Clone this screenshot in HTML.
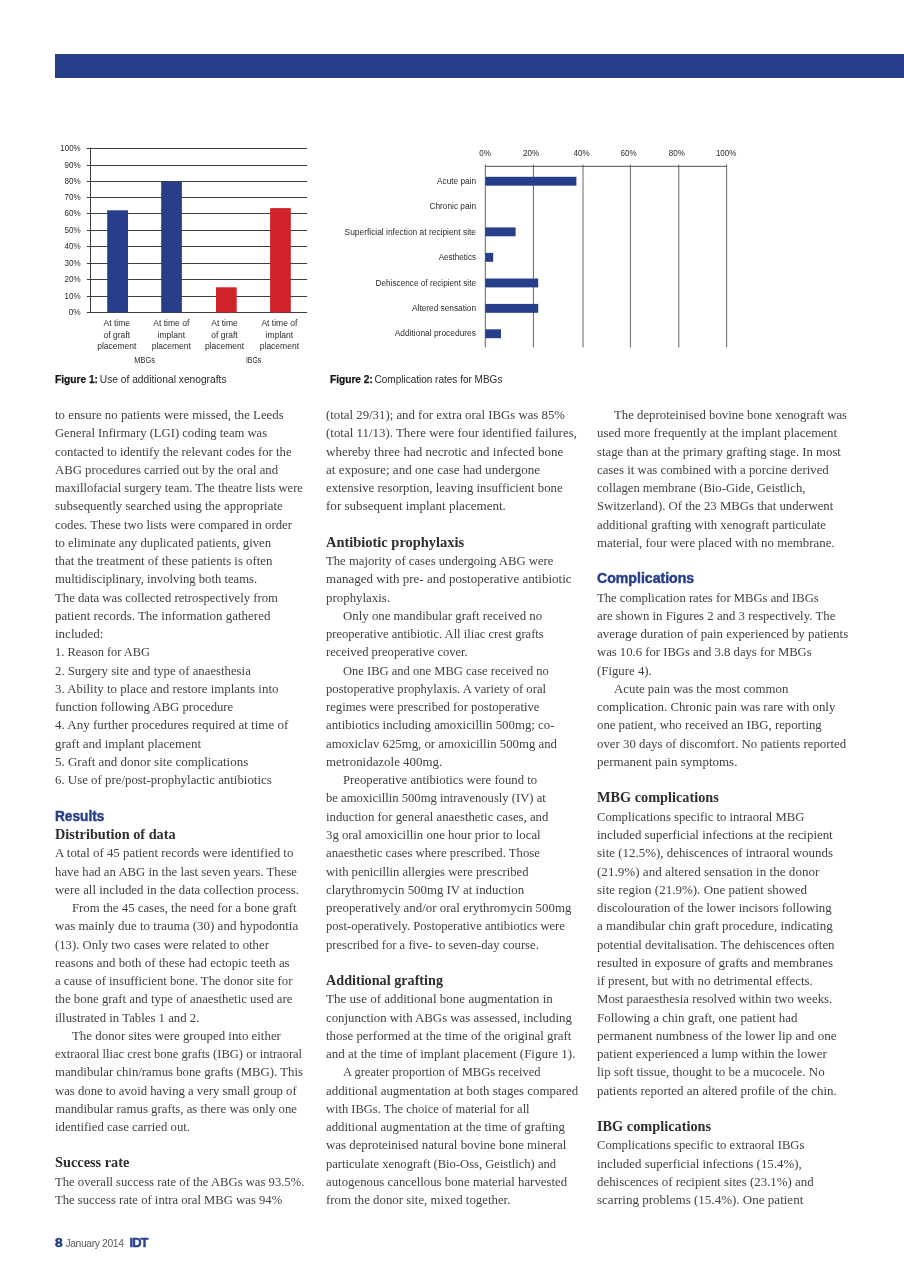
<!DOCTYPE html>
<html lang="en"><head><meta charset="utf-8"><title>IDT January 2014 - page 8</title>
<style>
html,body{margin:0;padding:0;background:#fff;}
body{width:904px;height:1280px;position:relative;overflow:hidden;font-family:"Liberation Serif",serif;}
#page{position:absolute;left:0;top:0;width:904px;height:1280px;will-change:transform;}
.bar{position:absolute;left:55px;top:54.4px;width:849px;height:23.2px;background:#273f8b;}
.l{position:absolute;white-space:pre;transform-origin:0 0;line-height:20px;height:20px;color:#424242;font-size:13.4px;font-kerning:normal;}
.b{font-weight:bold;color:#2e2e2e;font-size:14.0px;}
.h{font-family:"Liberation Sans",sans-serif;font-weight:bold;color:#273f8b;font-size:14.2px;-webkit-text-stroke:0.45px #273f8b;}
svg{position:absolute;left:0;top:0;}
svg text{font-family:"Liberation Sans",sans-serif;fill:#2b2b2b;}
.foot{position:absolute;white-space:pre;font-family:"Liberation Sans",sans-serif;line-height:16px;}
</style></head><body>
<div id="page"><div class="bar"></div>

<svg width="904" height="400" viewBox="0 0 904 400">
<g stroke="#3e3e3e" stroke-width="1" fill="none">
<line x1="86.8" y1="148.50" x2="307.1" y2="148.50"/>
<line x1="86.8" y1="165.50" x2="307.1" y2="165.50"/>
<line x1="86.8" y1="181.50" x2="307.1" y2="181.50"/>
<line x1="86.8" y1="197.50" x2="307.1" y2="197.50"/>
<line x1="86.8" y1="213.50" x2="307.1" y2="213.50"/>
<line x1="86.8" y1="230.50" x2="307.1" y2="230.50"/>
<line x1="86.8" y1="246.50" x2="307.1" y2="246.50"/>
<line x1="86.8" y1="263.50" x2="307.1" y2="263.50"/>
<line x1="86.8" y1="279.50" x2="307.1" y2="279.50"/>
<line x1="86.8" y1="296.50" x2="307.1" y2="296.50"/>
<line x1="86.8" y1="312.50" x2="307.1" y2="312.50"/>
<line x1="90.5" y1="147.70" x2="90.5" y2="312.60"/>
</g>
<rect x="107.2" y="210.3" width="20.8" height="102.2" fill="#273f8b"/>
<rect x="161.2" y="181.9" width="20.7" height="130.6" fill="#273f8b"/>
<rect x="216.0" y="287.3" width="20.7" height="25.2" fill="#d2232a"/>
<rect x="270.1" y="208.1" width="20.7" height="104.4" fill="#d2232a"/>
<g font-size="8.3" text-anchor="end">
<text x="80.7" y="150.90" textLength="20.4" lengthAdjust="spacingAndGlyphs">100%</text>
<text x="80.7" y="167.90" textLength="16.1" lengthAdjust="spacingAndGlyphs">90%</text>
<text x="80.7" y="183.90" textLength="16.1" lengthAdjust="spacingAndGlyphs">80%</text>
<text x="80.7" y="199.90" textLength="16.1" lengthAdjust="spacingAndGlyphs">70%</text>
<text x="80.7" y="215.90" textLength="16.1" lengthAdjust="spacingAndGlyphs">60%</text>
<text x="80.7" y="232.90" textLength="16.1" lengthAdjust="spacingAndGlyphs">50%</text>
<text x="80.7" y="248.90" textLength="16.1" lengthAdjust="spacingAndGlyphs">40%</text>
<text x="80.7" y="265.90" textLength="16.1" lengthAdjust="spacingAndGlyphs">30%</text>
<text x="80.7" y="281.90" textLength="16.1" lengthAdjust="spacingAndGlyphs">20%</text>
<text x="80.7" y="298.90" textLength="16.1" lengthAdjust="spacingAndGlyphs">10%</text>
<text x="80.7" y="314.90" textLength="12.0" lengthAdjust="spacingAndGlyphs">0%</text>
</g>
<g font-size="8.5" text-anchor="middle">
<text x="116.8" y="326.3">At time</text>
<text x="116.8" y="337.6">of graft</text>
<text x="116.8" y="348.7">placement</text>
<text x="171.3" y="326.3">At time of</text>
<text x="171.3" y="337.6">implant</text>
<text x="171.3" y="348.7">placement</text>
<text x="224.5" y="326.3">At time</text>
<text x="224.5" y="337.6">of graft</text>
<text x="224.5" y="348.7">placement</text>
<text x="279.4" y="326.3">At time of</text>
<text x="279.4" y="337.6">implant</text>
<text x="279.4" y="348.7">placement</text>
</g>
<g font-size="8.5" text-anchor="middle"><text x="144.6" y="363.3" textLength="20.7" lengthAdjust="spacingAndGlyphs">MBGs</text><text x="253.6" y="363.3" textLength="15.4" lengthAdjust="spacingAndGlyphs">IBGs</text></g>
<g stroke="#555" stroke-width="0.9" fill="none">
<line x1="485.30" y1="164.70" x2="485.30" y2="347.4"/>
<line x1="533.40" y1="164.70" x2="533.40" y2="347.4"/>
<line x1="583.00" y1="164.70" x2="583.00" y2="347.4"/>
<line x1="630.40" y1="164.70" x2="630.40" y2="347.4"/>
<line x1="678.80" y1="164.70" x2="678.80" y2="347.4"/>
<line x1="726.60" y1="164.70" x2="726.60" y2="347.4"/>
<line x1="484.90" y1="166.3" x2="727.00" y2="166.3" stroke="#3e3e3e"/>
</g>
<rect x="485.3" y="176.8" width="91.1" height="8.9" fill="#273f8b"/>
<rect x="485.3" y="227.4" width="30.3" height="8.9" fill="#273f8b"/>
<rect x="485.3" y="252.9" width="7.9" height="8.9" fill="#273f8b"/>
<rect x="485.3" y="278.5" width="52.9" height="8.9" fill="#273f8b"/>
<rect x="485.3" y="303.9" width="52.9" height="8.9" fill="#273f8b"/>
<rect x="485.3" y="329.3" width="15.7" height="8.9" fill="#273f8b"/>
<g font-size="8.5" text-anchor="end">
<text x="476" y="184.3" textLength="39.0" lengthAdjust="spacingAndGlyphs">Acute pain</text>
<text x="476" y="209.2" textLength="46.5" lengthAdjust="spacingAndGlyphs">Chronic pain</text>
<text x="476" y="235.0" textLength="131.4" lengthAdjust="spacingAndGlyphs">Superficial infection at recipient site</text>
<text x="476" y="259.9" textLength="37.3" lengthAdjust="spacingAndGlyphs">Aesthetics</text>
<text x="476" y="286.0" textLength="100.4" lengthAdjust="spacingAndGlyphs">Dehiscence of recipient site</text>
<text x="476" y="311.3" textLength="63.9" lengthAdjust="spacingAndGlyphs">Altered sensation</text>
<text x="476" y="335.9" textLength="81.3" lengthAdjust="spacingAndGlyphs">Additional procedures</text>
</g>
<g font-size="8.6" text-anchor="middle">
<text x="485" y="155.6" textLength="11.6" lengthAdjust="spacingAndGlyphs">0%</text>
<text x="531" y="155.6" textLength="16.2" lengthAdjust="spacingAndGlyphs">20%</text>
<text x="581.7" y="155.6" textLength="16.2" lengthAdjust="spacingAndGlyphs">40%</text>
<text x="628.5" y="155.6" textLength="16.2" lengthAdjust="spacingAndGlyphs">60%</text>
<text x="676.8" y="155.6" textLength="16.2" lengthAdjust="spacingAndGlyphs">80%</text>
<text x="726.1" y="155.6" textLength="20.4" lengthAdjust="spacingAndGlyphs">100%</text>
</g>
<g font-size="10.4" fill="#1a1a1a">
<text x="55" y="383.0" font-weight="bold" textLength="43" lengthAdjust="spacingAndGlyphs" style="fill:#151515;stroke:#151515;stroke-width:0.25">Figure 1:</text>
<text x="99.8" y="383.0" textLength="126.7" lengthAdjust="spacingAndGlyphs">Use of additional xenografts</text>
<text x="330" y="383.3" font-weight="bold" textLength="42.8" lengthAdjust="spacingAndGlyphs" style="fill:#151515;stroke:#151515;stroke-width:0.25">Figure 2:</text>
<text x="374.5" y="383.3" textLength="127.9" lengthAdjust="spacingAndGlyphs">Complication rates for MBGs</text>
</g>
</svg>

<div class="l" style="left:54.6px;top:405.18px;transform:scaleX(0.9580);">to ensure no patients were missed, the Leeds</div>
<div class="l" style="left:54.6px;top:423.43px;transform:scaleX(0.9429);">General Infirmary (LGI) coding team was</div>
<div class="l" style="left:54.6px;top:441.68px;transform:scaleX(0.9512);">contacted to identify the relevant codes for the</div>
<div class="l" style="left:54.6px;top:459.94px;transform:scaleX(0.9505);">ABG procedures carried out by the oral and</div>
<div class="l" style="left:54.6px;top:478.19px;transform:scaleX(0.9368);">maxillofacial surgery team. The theatre lists were</div>
<div class="l" style="left:54.6px;top:496.44px;transform:scaleX(0.9628);">subsequently searched using the appropriate</div>
<div class="l" style="left:54.6px;top:514.70px;transform:scaleX(0.9551);">codes. These two lists were compared in order</div>
<div class="l" style="left:54.6px;top:532.95px;transform:scaleX(0.9527);">to eliminate any duplicated patients, given</div>
<div class="l" style="left:54.6px;top:551.20px;transform:scaleX(0.9569);">that the treatment of these patients is often</div>
<div class="l" style="left:54.6px;top:569.45px;transform:scaleX(0.9456);">multidisciplinary, involving both teams.</div>
<div class="l" style="left:54.6px;top:587.71px;transform:scaleX(0.9505);">The data was collected retrospectively from</div>
<div class="l" style="left:54.6px;top:605.96px;transform:scaleX(0.9682);">patient records. The information gathered</div>
<div class="l" style="left:54.6px;top:624.21px;transform:scaleX(0.9712);">included:</div>
<div class="l" style="left:54.6px;top:642.47px;transform:scaleX(0.9245);">1. Reason for ABG</div>
<div class="l" style="left:54.6px;top:660.72px;transform:scaleX(0.9533);">2. Surgery site and type of anaesthesia</div>
<div class="l" style="left:54.6px;top:678.97px;transform:scaleX(0.9627);">3. Ability to place and restore implants into</div>
<div class="l" style="left:54.6px;top:697.23px;transform:scaleX(0.9489);">function following ABG procedure</div>
<div class="l" style="left:54.6px;top:715.48px;transform:scaleX(0.9713);">4. Any further procedures required at time of</div>
<div class="l" style="left:54.6px;top:733.73px;transform:scaleX(0.9695);">graft and implant placement</div>
<div class="l" style="left:54.6px;top:751.98px;transform:scaleX(0.9693);">5. Graft and donor site complications</div>
<div class="l" style="left:54.6px;top:770.24px;transform:scaleX(0.9600);">6. Use of pre/post-prophylactic antibiotics</div>
<div class="l h" style="left:54.6px;top:805.55px;transform:scaleX(0.9621);">Results</div>
<div class="l b" style="left:54.6px;top:824.79px;transform:scaleX(1.0201);">Distribution of data</div>
<div class="l" style="left:54.6px;top:843.25px;transform:scaleX(0.9626);">A total of 45 patient records were identified to</div>
<div class="l" style="left:54.6px;top:861.50px;transform:scaleX(0.9524);">have had an ABG in the last seven years. These</div>
<div class="l" style="left:54.6px;top:879.76px;transform:scaleX(0.9594);">were all included in the data collection process.</div>
<div class="l" style="left:72.1px;top:898.01px;transform:scaleX(0.9553);">From the 45 cases, the need for a bone graft</div>
<div class="l" style="left:54.6px;top:916.26px;transform:scaleX(0.9717);">was mainly due to trauma (30) and hypodontia</div>
<div class="l" style="left:54.6px;top:934.51px;transform:scaleX(0.9524);">(13). Only two cases were related to other</div>
<div class="l" style="left:54.6px;top:952.77px;transform:scaleX(0.9618);">reasons and both of these had ectopic teeth as</div>
<div class="l" style="left:54.6px;top:971.02px;transform:scaleX(0.9505);">a cause of insufficient bone. The donor site for</div>
<div class="l" style="left:54.6px;top:989.27px;transform:scaleX(0.9558);">the bone graft and type of anaesthetic used are</div>
<div class="l" style="left:54.6px;top:1007.53px;transform:scaleX(0.9545);">illustrated in Tables 1 and 2.</div>
<div class="l" style="left:72.1px;top:1025.78px;transform:scaleX(0.9619);">The donor sites were grouped into either</div>
<div class="l" style="left:54.6px;top:1044.03px;transform:scaleX(0.9347);">extraoral lliac crest bone grafts (IBG) or intraoral</div>
<div class="l" style="left:54.6px;top:1062.29px;transform:scaleX(0.9532);">mandibular chin/ramus bone grafts (MBG). This</div>
<div class="l" style="left:54.6px;top:1080.54px;transform:scaleX(0.9488);">was done to avoid having a very small group of</div>
<div class="l" style="left:54.6px;top:1098.79px;transform:scaleX(0.9571);">mandibular ramus grafts, as there was only one</div>
<div class="l" style="left:54.6px;top:1117.04px;transform:scaleX(0.9505);">identified case carried out.</div>
<div class="l b" style="left:54.6px;top:1153.35px;transform:scaleX(1.0234);">Success rate</div>
<div class="l" style="left:54.6px;top:1171.80px;transform:scaleX(0.9446);">The overall success rate of the ABGs was 93.5%.</div>
<div class="l" style="left:54.6px;top:1190.06px;transform:scaleX(0.9458);">The success rate of intra oral MBG was 94%</div>
<div class="l" style="left:325.6px;top:405.18px;transform:scaleX(0.9564);">(total 29/31); and for extra oral IBGs was 85%</div>
<div class="l" style="left:325.6px;top:423.43px;transform:scaleX(0.9640);">(total 11/13). There were four identified failures,</div>
<div class="l" style="left:325.6px;top:441.68px;transform:scaleX(0.9730);">whereby three had necrotic and infected bone</div>
<div class="l" style="left:325.6px;top:459.94px;transform:scaleX(0.9770);">at exposure; and one case had undergone</div>
<div class="l" style="left:325.6px;top:478.19px;transform:scaleX(0.9548);">extensive resorption, leaving insufficient bone</div>
<div class="l" style="left:325.6px;top:496.44px;transform:scaleX(0.9753);">for subsequent implant placement.</div>
<div class="l b" style="left:325.6px;top:532.75px;transform:scaleX(1.0311);">Antibiotic prophylaxis</div>
<div class="l" style="left:325.6px;top:551.20px;transform:scaleX(0.9476);">The majority of cases undergoing ABG were</div>
<div class="l" style="left:325.6px;top:569.45px;transform:scaleX(0.9728);">managed with pre- and postoperative antibiotic</div>
<div class="l" style="left:325.6px;top:587.71px;transform:scaleX(0.9629);">prophylaxis.</div>
<div class="l" style="left:343.1px;top:605.96px;transform:scaleX(0.9584);">Only one mandibular graft received no</div>
<div class="l" style="left:325.6px;top:624.21px;transform:scaleX(0.9353);">preoperative antibiotic. All iliac crest grafts</div>
<div class="l" style="left:325.6px;top:642.47px;transform:scaleX(0.9365);">received preoperative cover.</div>
<div class="l" style="left:343.1px;top:660.72px;transform:scaleX(0.9369);">One IBG and one MBG case received no</div>
<div class="l" style="left:325.6px;top:678.97px;transform:scaleX(0.9451);">postoperative prophylaxis. A variety of oral</div>
<div class="l" style="left:325.6px;top:697.23px;transform:scaleX(0.9471);">regimes were prescribed for postoperative</div>
<div class="l" style="left:325.6px;top:715.48px;transform:scaleX(0.9566);">antibiotics including amoxicillin 500mg; co-</div>
<div class="l" style="left:325.6px;top:733.73px;transform:scaleX(0.9556);">amoxiclav 625mg, or amoxicillin 500mg and</div>
<div class="l" style="left:325.6px;top:751.98px;transform:scaleX(0.9645);">metronidazole 400mg.</div>
<div class="l" style="left:343.1px;top:770.24px;transform:scaleX(0.9491);">Preoperative antibiotics were found to</div>
<div class="l" style="left:325.6px;top:788.49px;transform:scaleX(0.9427);">be amoxicillin 500mg intravenously (IV) at</div>
<div class="l" style="left:325.6px;top:806.74px;transform:scaleX(0.9556);">induction for general anaesthetic cases, and</div>
<div class="l" style="left:325.6px;top:825.00px;transform:scaleX(0.9539);">3g oral amoxicillin one hour prior to local</div>
<div class="l" style="left:325.6px;top:843.25px;transform:scaleX(0.9488);">anaesthetic cases where prescribed. Those</div>
<div class="l" style="left:325.6px;top:861.50px;transform:scaleX(0.9433);">with penicillin allergies were prescribed</div>
<div class="l" style="left:325.6px;top:879.76px;transform:scaleX(0.9592);">clarythromycin 500mg IV at induction</div>
<div class="l" style="left:325.6px;top:898.01px;transform:scaleX(0.9620);">preoperatively and/or oral erythromycin 500mg</div>
<div class="l" style="left:325.6px;top:916.26px;transform:scaleX(0.9397);">post-operatively. Postoperative antibiotics were</div>
<div class="l" style="left:325.6px;top:934.51px;transform:scaleX(0.9429);">prescribed for a five- to seven-day course.</div>
<div class="l b" style="left:325.6px;top:970.82px;transform:scaleX(1.0129);">Additional grafting</div>
<div class="l" style="left:325.6px;top:989.27px;transform:scaleX(0.9743);">The use of additional bone augmentation in</div>
<div class="l" style="left:325.6px;top:1007.53px;transform:scaleX(0.9578);">conjunction with ABGs was assessed, including</div>
<div class="l" style="left:325.6px;top:1025.78px;transform:scaleX(0.9621);">those performed at the time of the original graft</div>
<div class="l" style="left:325.6px;top:1044.03px;transform:scaleX(0.9706);">and at the time of implant placement (Figure 1).</div>
<div class="l" style="left:343.1px;top:1062.29px;transform:scaleX(0.9334);">A greater proportion of MBGs received</div>
<div class="l" style="left:325.6px;top:1080.54px;transform:scaleX(0.9616);">additional augmentation at both stages compared</div>
<div class="l" style="left:325.6px;top:1098.79px;transform:scaleX(0.9322);">with IBGs. The choice of material for all</div>
<div class="l" style="left:325.6px;top:1117.04px;transform:scaleX(0.9560);">additional augmentation at the time of grafting</div>
<div class="l" style="left:325.6px;top:1135.30px;transform:scaleX(0.9606);">was deproteinised natural bovine bone mineral</div>
<div class="l" style="left:325.6px;top:1153.55px;transform:scaleX(0.9390);">particulate xenograft (Bio-Oss, Geistlich) and</div>
<div class="l" style="left:325.6px;top:1171.80px;transform:scaleX(0.9564);">autogenous cancellous bone material harvested</div>
<div class="l" style="left:325.6px;top:1190.06px;transform:scaleX(0.9591);">from the donor site, mixed together.</div>
<div class="l" style="left:614.1px;top:405.18px;transform:scaleX(0.9541);">The deproteinised bovine bone xenograft was</div>
<div class="l" style="left:596.6px;top:423.43px;transform:scaleX(0.9633);">used more frequently at the implant placement</div>
<div class="l" style="left:596.6px;top:441.68px;transform:scaleX(0.9519);">stage than at the primary grafting stage. In most</div>
<div class="l" style="left:596.6px;top:459.94px;transform:scaleX(0.9543);">cases it was combined with a porcine derived</div>
<div class="l" style="left:596.6px;top:478.19px;transform:scaleX(0.9419);">collagen membrane (Bio-Gide, Geistlich,</div>
<div class="l" style="left:596.6px;top:496.44px;transform:scaleX(0.9526);">Switzerland). Of the 23 MBGs that underwent</div>
<div class="l" style="left:596.6px;top:514.70px;transform:scaleX(0.9504);">additional grafting with xenograft particulate</div>
<div class="l" style="left:596.6px;top:532.95px;transform:scaleX(0.9595);">material, four were placed with no membrane.</div>
<div class="l h" style="left:596.6px;top:568.26px;transform:scaleX(0.9944);">Complications</div>
<div class="l" style="left:596.6px;top:587.71px;transform:scaleX(0.9433);">The complication rates for MBGs and IBGs</div>
<div class="l" style="left:596.6px;top:605.96px;transform:scaleX(0.9565);">are shown in Figures 2 and 3 respectively. The</div>
<div class="l" style="left:596.6px;top:624.21px;transform:scaleX(0.9652);">average duration of pain experienced by patients</div>
<div class="l" style="left:596.6px;top:642.47px;transform:scaleX(0.9463);">was 10.6 for IBGs and 3.8 days for MBGs</div>
<div class="l" style="left:596.6px;top:660.72px;transform:scaleX(0.9568);">(Figure 4).</div>
<div class="l" style="left:614.1px;top:678.97px;transform:scaleX(0.9585);">Acute pain was the most common</div>
<div class="l" style="left:596.6px;top:697.23px;transform:scaleX(0.9579);">complication. Chronic pain was rare with only</div>
<div class="l" style="left:596.6px;top:715.48px;transform:scaleX(0.9532);">one patient, who received an IBG, reporting</div>
<div class="l" style="left:596.6px;top:733.73px;transform:scaleX(0.9573);">over 30 days of discomfort. No patients reported</div>
<div class="l" style="left:596.6px;top:751.98px;transform:scaleX(0.9705);">permanent pain symptoms.</div>
<div class="l b" style="left:596.6px;top:788.29px;transform:scaleX(1.0202);">MBG complications</div>
<div class="l" style="left:596.6px;top:806.74px;transform:scaleX(0.9452);">Complications specific to intraoral MBG</div>
<div class="l" style="left:596.6px;top:825.00px;transform:scaleX(0.9619);">included superficial infections at the recipient</div>
<div class="l" style="left:596.6px;top:843.25px;transform:scaleX(0.9660);">site (12.5%), dehiscences of intraoral wounds</div>
<div class="l" style="left:596.6px;top:861.50px;transform:scaleX(0.9789);">(21.9%) and altered sensation in the donor</div>
<div class="l" style="left:596.6px;top:879.76px;transform:scaleX(0.9720);">site region (21.9%). One patient showed</div>
<div class="l" style="left:596.6px;top:898.01px;transform:scaleX(0.9572);">discolouration of the lower incisors following</div>
<div class="l" style="left:596.6px;top:916.26px;transform:scaleX(0.9722);">a mandibular chin graft procedure, indicating</div>
<div class="l" style="left:596.6px;top:934.51px;transform:scaleX(0.9585);">potential devitalisation. The dehiscences often</div>
<div class="l" style="left:596.6px;top:952.77px;transform:scaleX(0.9675);">resulted in exposure of grafts and membranes</div>
<div class="l" style="left:596.6px;top:971.02px;transform:scaleX(0.9619);">if present, but with no detrimental effects.</div>
<div class="l" style="left:596.6px;top:989.27px;transform:scaleX(0.9558);">Most paraesthesia resolved within two weeks.</div>
<div class="l" style="left:596.6px;top:1007.53px;transform:scaleX(0.9640);">Following a chin graft, one patient had</div>
<div class="l" style="left:596.6px;top:1025.78px;transform:scaleX(0.9811);">permanent numbness of the lower lip and one</div>
<div class="l" style="left:596.6px;top:1044.03px;transform:scaleX(0.9748);">patient experienced a lump within the lower</div>
<div class="l" style="left:596.6px;top:1062.29px;transform:scaleX(0.9653);">lip soft tissue, thought to be a mucocele. No</div>
<div class="l" style="left:596.6px;top:1080.54px;transform:scaleX(0.9651);">patients reported an altered profile of the chin.</div>
<div class="l b" style="left:596.6px;top:1116.84px;transform:scaleX(1.0222);">IBG complications</div>
<div class="l" style="left:596.6px;top:1135.30px;transform:scaleX(0.9453);">Complications specific to extraoral IBGs</div>
<div class="l" style="left:596.6px;top:1153.55px;transform:scaleX(0.9646);">included superficial infections (15.4%),</div>
<div class="l" style="left:596.6px;top:1171.80px;transform:scaleX(0.9613);">dehiscences of recipient sites (23.1%) and</div>
<div class="l" style="left:596.6px;top:1190.06px;transform:scaleX(0.9733);">scarring problems (15.4%). One patient</div>
<div class="foot" style="left:54.6px;top:1235.0px;font-size:12.3px;font-weight:bold;color:#273f8b;-webkit-text-stroke:0.5px #273f8b;transform:scaleX(1.12);transform-origin:0 0;">8</div>
<div class="foot" id="fdate" style="left:65.4px;top:1235.6px;font-size:10.3px;color:#5a5a5a;letter-spacing:-0.35px;">January 2014</div>
<div class="foot" id="fidt" style="left:129.6px;top:1235.3px;font-size:13px;font-weight:bold;color:#273f8b;letter-spacing:-1.0px;-webkit-text-stroke:0.4px #273f8b;">IDT</div>

</div></body></html>
